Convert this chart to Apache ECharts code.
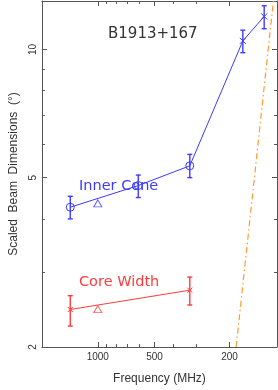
<!DOCTYPE html>
<html>
<head>
<meta charset="utf-8">
<script src="https://cdn.jsdelivr.net/npm/echarts@6/dist/echarts.min.js"></script>
<style>html,body{margin:0;padding:0;background:#fff}#c{width:278px;height:390px}</style>
</head>
<body>
<div id="c"></div>
<script>
// ---- data ----
var coneFreq = [1400, 610, 325, 170, 131];
var coneVal  = [4.26, 4.79, 5.33, 10.48, 11.96];
var coneLo   = [4.00, 4.49, 5.00, 9.83, 11.19];
var coneHi   = [4.52, 5.07, 5.67, 11.10, 12.67];
var coneSym  = ['circle', 'circle', 'circle', 'x', 'x'];
var coneTriFreq = [1000];
var coneTriVal  = [4.35];

var coreFreq = [1400, 325];
var coreVal  = [2.45, 2.72];
var coreLo   = [2.24, 2.51];
var coreHi   = [2.64, 2.92];
var coreTriFreq = [1000];
var coreTriVal  = [2.455];

var limitFreq = [184.5, 117];
var limitVal  = [2, 13];

var xMajorTicks = [1000, 500, 200];
var xMinorTicks = [900, 800, 700, 600, 400, 300];
var yMajorTicks = [2, 5, 10];
var yMinorTicks = [3, 4, 6, 7, 8, 9];

var X_MIN = 112, X_MAX = 1980, Y_MIN = 2, Y_MAX = 13;

// ---- styles ----
var BLUE = '#3b3bff', RED = '#ff3b3b', ORANGE = '#ff9a30', AX = '#555';
var XPATH = 'path://M0,0L10,10M10,0L0,10';

function zip(a, b) { return a.map(function (v, i) { return [v, b[i]]; }); }
function errData(f, lo, hi) { return f.map(function (v, i) { return [v, lo[i], hi[i]]; }); }

function errSeries(data, color) {
  return {
    type: 'custom', xAxisIndex: 0, yAxisIndex: 0, data: data, z: 3,
    renderItem: function (params, api) {
      var p1 = api.coord([api.value(0), api.value(1)]);
      var p2 = api.coord([api.value(0), api.value(2)]);
      var w = 2.5;
      var st = { stroke: color, lineWidth: 1.4 };
      return { type: 'group', children: [
        { type: 'line', shape: { x1: p1[0], y1: p1[1], x2: p2[0], y2: p2[1] }, style: st },
        { type: 'line', shape: { x1: p1[0] - w, y1: p1[1], x2: p1[0] + w, y2: p1[1] }, style: st },
        { type: 'line', shape: { x1: p2[0] - w, y1: p2[1], x2: p2[0] + w, y2: p2[1] }, style: st }
      ]};
    }
  };
}

function xAx(pos, ticks, len, showLine, labels) {
  return {
    type: 'log', logBase: 10, min: X_MIN, max: X_MAX, inverse: true, position: pos,
    axisLine: { show: showLine, lineStyle: { color: AX, width: 1 } },
    axisTick: { show: true, inside: true, length: len, customValues: ticks, lineStyle: { color: AX, width: 1 } },
    axisLabel: labels ? { show: true, customValues: ticks, margin: 5, color: '#333', fontSize: 10,
      fontFamily: 'Liberation Sans', formatter: function (v) { return String(Math.round(v)); } } : { show: false },
    splitLine: { show: false }, minorTick: { show: false }
  };
}
function yAx(pos, ticks, len, showLine, labels) {
  return {
    type: 'log', logBase: 10, min: Y_MIN, max: Y_MAX, position: pos,
    axisLine: { show: showLine, lineStyle: { color: AX, width: 1 } },
    axisTick: { show: true, inside: true, length: len, customValues: ticks, lineStyle: { color: AX, width: 1 } },
    axisLabel: labels ? { show: true, customValues: ticks, rotate: 90, margin: 4, color: '#333', fontSize: 10,
      fontFamily: 'Liberation Sans', formatter: function (v) { return String(Math.round(v)); } } : { show: false },
    splitLine: { show: false }, minorTick: { show: false }
  };
}

var xAxes = [xAx('bottom', xMajorTicks, 5, true, true), xAx('bottom', xMinorTicks, 3, false, false),
             xAx('top', xMajorTicks, 5, true, false), xAx('top', xMinorTicks, 3, false, false)];
xAxes[0].name = 'Frequency (MHz)';
xAxes[0].nameLocation = 'middle';
xAxes[0].nameGap = 26;
xAxes[0].nameTextStyle = { color: '#333', fontSize: 12, fontFamily: 'Liberation Sans' };

var yAxes = [yAx('left', yMajorTicks, 5, true, true), yAx('left', yMinorTicks, 3, false, false),
             yAx('right', yMajorTicks, 5, true, false), yAx('right', yMinorTicks, 3, false, false)];
yAxes[0].name = 'Scaled  Beam  Dimensions  (\u00b0)';
yAxes[0].nameLocation = 'middle';
yAxes[0].nameGap = 18;
yAxes[0].nameTextStyle = { color: '#333', fontSize: 12, fontFamily: 'Liberation Sans' };

var coneLine = coneFreq.map(function (f, i) {
  return { value: [f, coneVal[i]], symbol: coneSym[i] === 'x' ? XPATH : 'circle',
    symbolSize: coneSym[i] === 'x' ? 6 : 8 };
});
var coreLine = coreFreq.map(function (f, i) {
  return { value: [f, coreVal[i]], symbol: XPATH, symbolSize: 5 };
});

var chart = echarts.init(document.getElementById('c'), null, { renderer: 'canvas' });
chart.setOption({
  animation: false,
  backgroundColor: '#fff',
  grid: { left: 36, right: 1, top: 1, bottom: 40, containLabel: false },
  xAxis: xAxes,
  yAxis: yAxes,
  graphic: [
    { type: 'text', left: 108, top: 27, style: { text: 'B1913+167', fill: '#333', font: '15px "DejaVu Sans"' } },
    { type: 'text', left: 79, top: 179, style: { text: 'Inner Cone', fill: BLUE, font: '14.5px "DejaVu Sans"' } },
    { type: 'text', left: 79, top: 275, style: { text: 'Core Width', fill: RED, font: '14.5px "DejaVu Sans"' } }
  ],
  series: [
    { type: 'line', data: zip(limitFreq, limitVal), showSymbol: false, symbol: 'none',
      lineStyle: { color: ORANGE, width: 1.2, type: [6, 3, 1.5, 3] }, z: 1 },
    errSeries(errData(coneFreq, coneLo, coneHi), BLUE),
    errSeries(errData(coreFreq, coreLo, coreHi), RED),
    { type: 'line', data: coneLine, showAllSymbol: true,
      lineStyle: { color: BLUE, width: 1 },
      itemStyle: { color: 'rgba(0,0,0,0)', borderColor: BLUE, borderWidth: 1 }, z: 4 },
    { type: 'line', data: coreLine, showAllSymbol: true,
      lineStyle: { color: RED, width: 1 },
      itemStyle: { color: 'rgba(0,0,0,0)', borderColor: RED, borderWidth: 1 }, z: 4 },
    { type: 'scatter', data: zip(coneTriFreq, coneTriVal), symbol: 'triangle', symbolSize: [8, 7],
      itemStyle: { color: 'rgba(0,0,0,0)', borderColor: BLUE, borderWidth: 1 }, z: 4 },
    { type: 'scatter', data: zip(coreTriFreq, coreTriVal), symbol: 'triangle', symbolSize: [8, 7],
      itemStyle: { color: 'rgba(0,0,0,0)', borderColor: RED, borderWidth: 1 }, z: 4 }
  ]
});
</script>
</body>
</html>
